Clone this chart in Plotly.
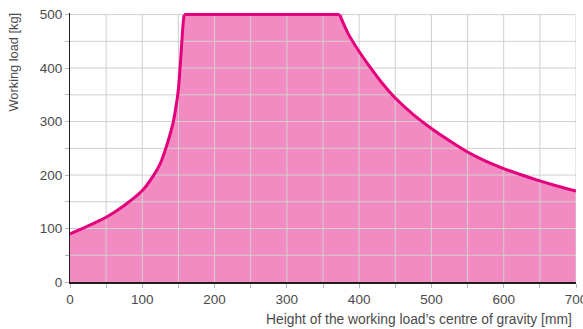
import plotly.graph_objects as go

# ---- data ----
rise_x = [0, 25, 50, 75, 100, 115, 125, 132, 138, 143, 146, 149, 151, 152.5, 154, 155.5, 157, 158]
rise_y = [90, 105, 121, 143, 171, 198, 222, 248, 274, 300, 323, 350, 377, 405, 435, 465, 490, 500]
flat_x = [158, 373]
flat_y = [500, 500]
fall_x = [373, 385, 400, 415, 430, 450, 475, 500, 525, 550, 575, 600, 625, 650, 675, 700]
fall_y = [500, 464, 431, 402, 375, 344, 313, 287, 264, 243, 226, 212, 200, 189, 179, 170]

x_ticks = [0, 50, 100, 150, 200, 250, 300, 350, 400, 450, 500, 550, 600, 650, 700]
x_labels = ["0", "", "100", "", "200", "", "300", "", "400", "", "500", "", "600", "", "700"]
y_ticks = [0, 50, 100, 150, 200, 250, 300, 350, 400, 450, 500]
y_labels = ["0", "", "100", "", "200", "", "300", "", "400", "", "500"]

x_title = "Height of the working load’s centre of gravity [mm]"
y_title = "Working load [kg]"

LINE = "#e4007c"
FILL = "#f28bc1"
GRID = "#d0d0d0"
TXT = "#4a4a4a"
FONT = "Liberation Sans"

all_x = rise_x + flat_x[1:] + fall_x[1:]
all_y = rise_y + flat_y[1:] + fall_y[1:]

fig = go.Figure()
# filled area
fig.add_trace(go.Scatter(x=all_x, y=all_y, mode="lines",
                         line=dict(width=0, color=FILL),
                         fill="tozeroy", fillcolor=FILL, hoverinfo="skip", showlegend=False))
# grid drawn above the fill
gx, gy = [], []
for v in x_ticks[1:]:
    gx += [v, v, None]
    gy += [y_ticks[0], y_ticks[-1], None]
for v in y_ticks[1:]:
    gx += [x_ticks[0], x_ticks[-1], None]
    gy += [v, v, None]
fig.add_trace(go.Scatter(x=gx, y=gy, mode="lines", line=dict(width=1, color=GRID),
                         hoverinfo="skip", showlegend=False))
# curve
cx = rise_x + [None] + flat_x + [None] + fall_x
cy = rise_y + [None] + flat_y + [None] + fall_y
fig.add_trace(go.Scatter(x=cx, y=cy, mode="lines",
                         line=dict(width=3, color=LINE, shape="spline", smoothing=0.9),
                         connectgaps=False, hoverinfo="skip", showlegend=False))

fig.update_layout(
    width=583, height=329,
    margin=dict(l=70, r=7, t=13, b=47, autoexpand=False),
    paper_bgcolor="white", plot_bgcolor="white",
    font=dict(family=FONT, size=13, color=TXT),
    showlegend=False,
    xaxis=dict(range=[0, 700], tickvals=x_ticks, ticktext=x_labels, showgrid=False,
               zeroline=False, showline=True, linecolor="#1e1e1e", linewidth=1.5,
               ticks="outside", ticklen=4, tickcolor="#b8b8b8", tickwidth=1,
               ticklabeloverflow="allow", automargin=False,
               tickfont=dict(size=13.5, color=TXT)),
    yaxis=dict(range=[0, 503], tickvals=y_ticks, ticktext=y_labels, showgrid=False,
               zeroline=False, showline=True, linecolor="#1e1e1e", linewidth=1.2,
               ticks="outside", ticklen=4, tickcolor="#b8b8b8", tickwidth=1,
               ticklabeloverflow="allow", automargin=False,
               tickfont=dict(size=13.5, color=TXT)),
    annotations=[
        dict(text=x_title, xref="paper", yref="paper", x=1, y=-0.141, xanchor="right",
             yanchor="middle", xshift=-2, showarrow=False, font=dict(size=13.8, color=TXT)),
        dict(text=y_title, xref="paper", yref="paper", x=-0.1107, y=1, xanchor="center",
             yanchor="top", yshift=3, textangle=-90, showarrow=False,
             font=dict(size=12.8, color=TXT)),
    ],
)

fig.write_html("out.html", config={"displayModeBar": False},
               post_script="document.body.style.margin='0';")
